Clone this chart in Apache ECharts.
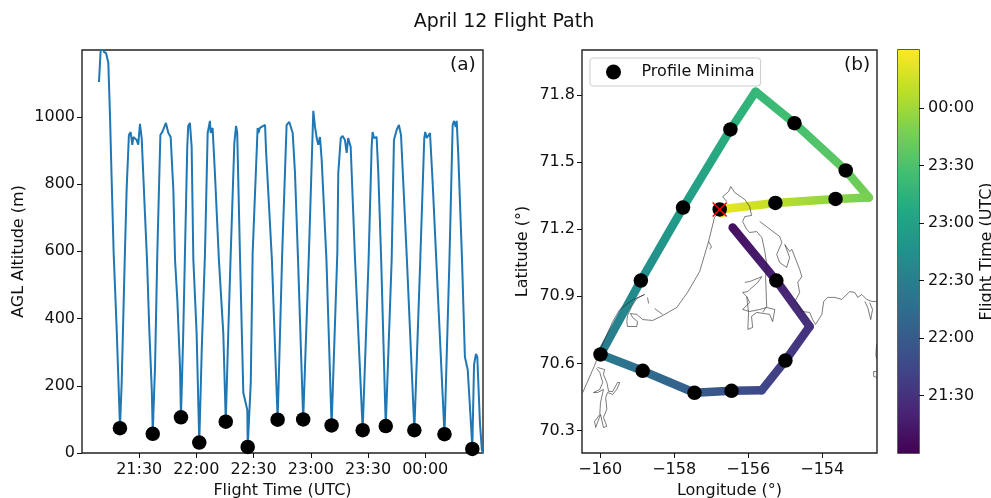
<!DOCTYPE html>
<html><head><meta charset="utf-8">
<script src="https://cdn.jsdelivr.net/npm/echarts@6/dist/echarts.min.js"></script>
<style>html,body{margin:0;padding:0;background:#fff}#c{width:991px;height:498px}</style></head>
<body><div id="c"></div>
<script>
// Times are minutes after 21:00 UTC
const flightMin = [8.9,9.8,10.5,11.5,12.6,13.3,13.8,14.7,15.6,16.6,18.2,19.8,19.9,20.8,22.5,23.4,24.6,25.5,26.4,26.9,27.8,28.7,29.5,30.4,31.3,33.0,34.1,35.3,36.6,37.1,38.3,39.5,41.1,42.1,44.0,45.3,46.5,47.9,48.8,50.0,51.4,51.9,53.1,54.0,55.2,55.7,56.6,57.5,58.4,60.1,61.5,62.8,64.5,65.9,67.1,67.5,68.5,69.7,71.8,74.1,75.4,76.7,78.0,79.9,80.8,81.4,82.9,84.6,86.7,86.9,88.5,89.5,92.1,92.5,93.3,96.0,96.5,99.6,102.6,105.0,107.3,108.7,110.5,111.7,113.3,116.0,119.0,121.3,122.2,123.1,123.9,124.8,125.7,128.2,130.9,133.9,134.4,135.7,136.7,137.9,138.8,139.6,140.9,143.2,147.2,150.3,151.9,152.4,153.1,154.5,155.4,156.9,159.3,162.4,163.6,165.0,166.2,167.3,168.5,170.4,174.3,177.4,179.5,180.0,180.8,182.5,183.9,185.8,190.1,192.7,194.4,195.1,196.0,196.5,197.3,199.3,200.8,202.3,203.1,204.7,205.6,206.6,207.3,208.7,209.7,210.3];
const altitude = [1104,1199,1229,1193,1190,1193,1161,1000,803,595,366,98,74,208,595,783,946,955,917,940,937,931,917,979,937,714,574,366,187,60,256,595,946,955,982,952,940,783,574,455,256,106,357,595,911,973,982,911,574,357,31,307,595,952,988,952,967,833,574,357,93,357,595,923,973,952,574,179,128,18,208,595,967,952,967,976,902,574,99,595,976,985,952,833,574,100,595,1018,970,937,917,940,872,574,82,595,833,937,943,931,893,937,911,574,68,574,911,955,937,940,833,574,80,574,931,961,976,946,804,574,68,574,937,955,937,952,804,574,56,574,976,988,970,988,893,574,286,247,247,18,262,295,286,89,9,0];
const minimaMin = [19.9,37.1,51.9,61.5,75.4,86.9,102.6,116.0,130.9,147.2,159.3,174.3,190.1,204.7];
const minimaAlt = [74,57,106,31,93,18,99,100,82,68,80,68,56,12];
const minimaLon = [-155.24,-154.995,-156.45,-157.45,-158.85,-159.99,-158.9,-157.76,-156.48,-154.75,-153.365,-153.64,-155.265,-156.77];
const minimaLat = [70.97,70.613,70.478,70.469,70.567,70.64,70.97,71.296,71.645,71.673,71.462,71.335,71.317,71.288];
const trackLon = [-156.42,-155.24,-154.34,-154.995,-155.635,-156.45,-157.45,-158.85,-159.99,-158.9,-157.76,-156.48,-155.8,-154.75,-153.365,-152.74,-153.64,-155.265,-156.77,-156.72];
const trackLat = [71.207,70.97,70.765,70.613,70.48,70.478,70.469,70.567,70.64,70.97,71.296,71.645,71.814,71.673,71.462,71.341,71.335,71.317,71.288,71.27];
const trackMin = [9,19.9,29.7,37,45.4,52,61.5,75.5,87,102.8,116.4,131,138.7,147.3,159,166.8,174,190,205,207];
const startLon = -156.77, startLat = 71.288;
const coastWest = [[-156.63,71.296],[-156.77,71.279],[-156.91,71.252],[-157.07,71.145],[-157.31,71.011],[-157.64,70.917],[-157.93,70.85],[-158.31,70.814],[-158.58,70.792],[-158.85,70.796],[-159.01,70.819],[-159.18,70.823],[-159.12,70.805],[-158.99,70.787],[-159.01,70.765],[-159.26,70.765],[-159.28,70.787],[-159.26,70.814],[-159.15,70.854],[-159.01,70.89],[-158.80,70.908]];
const coastSpit = [[-158.53,70.845],[-158.31,70.819]];
const coastDash = [[-158.72,70.895],[-158.69,70.868]];
const coastNib = [[-157.07,71.145],[-156.99,71.12],[-157.04,71.11]];
const coastSW = [[-160.47,70.47],[-160.15,70.591],[-159.96,70.676],[-159.66,70.787],[-159.47,70.841],[-159.15,70.881],[-158.80,70.908]];
const coastInlet = [[-160.07,70.582],[-159.88,70.573],[-159.91,70.551],[-159.82,70.515],[-159.77,70.475],[-159.66,70.475],[-159.53,70.515],[-159.47,70.515],[-159.55,70.484],[-159.66,70.462],[-159.80,70.47],[-159.85,70.448],[-159.82,70.395],[-159.91,70.359],[-159.82,70.319],[-159.91,70.314],[-159.99,70.372],[-160.12,70.314],[-160.15,70.341],[-160.01,70.372],[-159.99,70.426],[-159.91,70.484],[-160.07,70.47],[-160.18,70.47],[-160.01,70.484],[-159.93,70.515],[-160.01,70.56],[-160.10,70.578]];
const coastCape = [[-156.58,71.323],[-156.69,71.345],[-156.53,71.368],[-156.47,71.39],[-156.36,71.363],[-156.09,71.332],[-155.96,71.301],[-155.91,71.261],[-156.09,71.256],[-156.15,71.234],[-156.04,71.198],[-155.96,71.185],[-155.77,71.189],[-155.63,71.162],[-155.55,71.10],[-155.50,71.042],[-155.53,70.984],[-155.50,70.854],[-155.61,70.828]];
const coastBay = [[-155.69,71.234],[-155.47,71.207],[-155.15,71.167],[-155.09,71.14],[-155.23,71.087],[-155.15,71.051],[-154.96,71.029],[-154.88,71.073],[-155.01,71.131],[-154.88,71.10],[-154.82,71.109],[-154.61,71.02],[-154.55,70.988],[-154.66,70.962],[-154.61,70.917],[-154.74,70.877],[-154.66,70.863],[-154.55,70.832],[-154.34,70.828],[-154.26,70.796],[-154.18,70.774]];
const coastIsland = [[-156.09,70.962],[-155.96,70.966],[-155.82,70.975],[-155.63,70.988],[-155.74,70.962],[-155.96,70.93],[-156.01,70.921],[-156.15,70.917],[-156.04,70.899],[-155.96,70.872],[-156.15,70.841],[-155.96,70.832],[-155.69,70.841],[-155.50,70.85],[-155.28,70.841],[-155.34,70.787],[-155.42,70.819],[-155.77,70.828],[-155.91,70.81],[-155.88,70.761],[-156.01,70.752],[-155.99,70.828],[-156.04,70.899]];
const coastEast = [[-154.18,70.774],[-154.01,70.819],[-153.96,70.877],[-153.85,70.895],[-153.66,70.895],[-153.47,70.886],[-153.26,70.921],[-153.12,70.917],[-153.04,70.895],[-152.93,70.908],[-152.80,70.886],[-152.66,70.877],[-152.53,70.877]];
const coastBranch = [[-152.85,70.877],[-152.77,70.85],[-152.69,70.796],[-152.64,70.841],[-152.72,70.872]];
const coastFragA = [[-152.53,70.685],[-152.55,70.64],[-152.53,70.62]];
const coastFragB = [[-152.53,70.564],[-152.61,70.564],[-152.61,70.542],[-152.53,70.538]];
const coastlines = [coastWest,coastSpit,coastDash,coastNib,coastSW,coastInlet,coastCape,coastBay,coastIsland,coastEast,coastBranch,coastFragA,coastFragB];
const timeTicks = [30,60,90,120,150,180];
const timeLabels = ['21:30','22:00','22:30','23:00','23:30','00:00'];
const altTicks = [0,200,400,600,800,1000];
const lonTicks = [-160,-158,-156,-154];
const latTicks = [70.3,70.6,70.9,71.2,71.5,71.8];
const viridis = ['#440154','#482475','#414487','#355f8d','#2a788e','#21918c','#22a884','#44bf70','#7ad151','#bddf26','#fde725'];
const TIME_MAX = 210.3;

const FONT = '"DejaVu Sans"';
const zip = (a,b) => a.map((v,i)=>[v,b[i]]);
const colorAt = t => echarts.color.lerp(t/TIME_MAX, viridis);
const timeFmt = v => timeLabels[timeTicks.indexOf(v)] || '';
const tick = {show:true,length:5,lineStyle:{color:'#111',width:1}};
const label = {color:'#111',fontSize:16,fontFamily:FONT,margin:7};
const xLabel = Object.assign({},label,{margin:9});
const nameStyle = {color:'#111',fontSize:16,fontFamily:FONT};
const frame = {show:true,borderColor:'#222',borderWidth:1.4,backgroundColor:'#fff',outerBoundsMode:'none',containLabel:false};

const chart = echarts.init(document.getElementById('c'),null,{renderer:'canvas'});
const trackRows = trackLon.map((v,i)=>[v,trackLat[i],trackMin[i]]);

chart.setOption({
  animation:false,
  backgroundColor:'#fff',
  title:[
    {text:'April 12 Flight Path',left:504,top:13,textAlign:'center',padding:0,textStyle:{fontFamily:FONT,fontSize:19,fontWeight:'normal',color:'#111'}},
    {text:'(a)',left:450,top:56,padding:0,textStyle:{fontFamily:FONT,fontSize:18.5,fontWeight:'normal',color:'#111'}},
    {text:'(b)',left:844,top:56,padding:0,textStyle:{fontFamily:FONT,fontSize:18.5,fontWeight:'normal',color:'#111'}}
  ],
  legend:{data:['Profile Minima'],left:590,top:58,orient:'horizontal',icon:'circle',itemWidth:46,itemHeight:15,
    padding:[6,6,6,16],borderColor:'#ccc',borderWidth:1,borderRadius:3,backgroundColor:'rgba(255,255,255,0.8)',
    textStyle:{fontFamily:FONT,fontSize:16,color:'#111'},selectedMode:false,z:20},
  grid:[
    Object.assign({left:82,top:50,width:401,height:403},frame),
    Object.assign({left:582,top:50,width:295,height:403},frame),
    Object.assign({left:898,top:50,width:21,height:403},frame)
  ],
  xAxis:[
    {type:'value',gridIndex:0,min:0,max:TIME_MAX,splitLine:{show:false},axisLine:{show:false},
      axisTick:Object.assign({customValues:timeTicks},tick),
      axisLabel:Object.assign({customValues:timeTicks,formatter:timeFmt},xLabel),
      name:'Flight Time (UTC)',nameLocation:'middle',nameGap:30,nameTextStyle:nameStyle},
    {type:'value',gridIndex:1,min:-160.49,max:-152.52,splitLine:{show:false},axisLine:{show:false},
      axisTick:Object.assign({customValues:lonTicks},tick),
      axisLabel:Object.assign({customValues:lonTicks,formatter:v=>String(v).replace('-','\u2212')},xLabel),
      name:'Longitude (\u00b0)',nameLocation:'middle',nameGap:30,nameTextStyle:nameStyle},
    {type:'category',gridIndex:2,data:[''],axisLine:{show:false},axisTick:{show:false},axisLabel:{show:false}}
  ],
  yAxis:[
    {type:'value',gridIndex:0,min:0,max:1199,splitLine:{show:false},axisLine:{show:false},
      axisTick:Object.assign({customValues:altTicks},tick),
      axisLabel:Object.assign({customValues:altTicks,formatter:v=>String(v)},label),
      name:'AGL Altitude (m)',nameLocation:'middle',nameGap:55,nameTextStyle:nameStyle},
    {type:'value',gridIndex:1,min:70.2,max:72.0,splitLine:{show:false},axisLine:{show:false},
      axisTick:Object.assign({customValues:latTicks},tick),
      axisLabel:Object.assign({customValues:latTicks,formatter:v=>v.toFixed(1)},label),
      name:'Latitude (\u00b0)',nameLocation:'middle',nameGap:51,nameTextStyle:nameStyle},
    {type:'value',gridIndex:2,position:'right',min:0,max:TIME_MAX,splitLine:{show:false},axisLine:{show:false},
      axisTick:Object.assign({customValues:timeTicks},tick),
      axisLabel:Object.assign({customValues:timeTicks,formatter:timeFmt},xLabel),
      name:'Flight Time (UTC)',nameLocation:'middle',nameRotate:90,nameGap:60,nameTextStyle:nameStyle}
  ],
  series:[
    {type:'line',xAxisIndex:0,yAxisIndex:0,data:zip(flightMin,altitude),showSymbol:false,symbol:'none',clip:true,
      lineStyle:{color:'#1f77b4',width:2},z:2,silent:true},
    {name:'Profile Minima',type:'scatter',xAxisIndex:0,yAxisIndex:0,data:zip(minimaMin,minimaAlt),symbolSize:14.5,
      itemStyle:{color:'#000',opacity:1},z:3,clip:false},
    {type:'custom',xAxisIndex:1,yAxisIndex:1,data:trackRows,encode:{x:0,y:1},z:2,silent:true,clip:true,
      renderItem:(params,api)=>{
        const i=params.dataIndex;
        if(i>=trackRows.length-1) return null;
        const a=api.coord([trackRows[i][0],trackRows[i][1]]);
        const b=api.coord([trackRows[i+1][0],trackRows[i+1][1]]);
        return {type:'line',shape:{x1:a[0],y1:a[1],x2:b[0],y2:b[1]},
          style:{lineWidth:8.5,lineCap:'round',fill:null,
            stroke:new echarts.graphic.LinearGradient(a[0],a[1],b[0],b[1],
              [{offset:0,color:colorAt(trackRows[i][2])},{offset:1,color:colorAt(trackRows[i+1][2])}],true)}};
      }},
    ...coastlines.map(c=>({type:'line',xAxisIndex:1,yAxisIndex:1,data:c,symbol:'none',showSymbol:false,clip:true,silent:true,
      lineStyle:{color:'#222',width:0.6},z:3})),
    {name:'Profile Minima',type:'scatter',xAxisIndex:1,yAxisIndex:1,data:zip(minimaLon,minimaLat),symbolSize:14.5,
      itemStyle:{color:'#000',opacity:1},z:4},
    {type:'scatter',xAxisIndex:1,yAxisIndex:1,data:[[startLon,startLat]],symbol:'path://M0 0L10 10M10 0L0 10',symbolSize:14,
      itemStyle:{color:'none',borderColor:'#ff0000',borderWidth:1.5,opacity:1},z:5,silent:true},
    {type:'bar',xAxisIndex:2,yAxisIndex:2,data:[TIME_MAX],barWidth:'100%',silent:true,z:2,
      itemStyle:{color:new echarts.graphic.LinearGradient(0,1,0,0,viridis.map((c,i)=>({offset:i/(viridis.length-1),color:c})))}}
  ]
});
</script></body></html>
